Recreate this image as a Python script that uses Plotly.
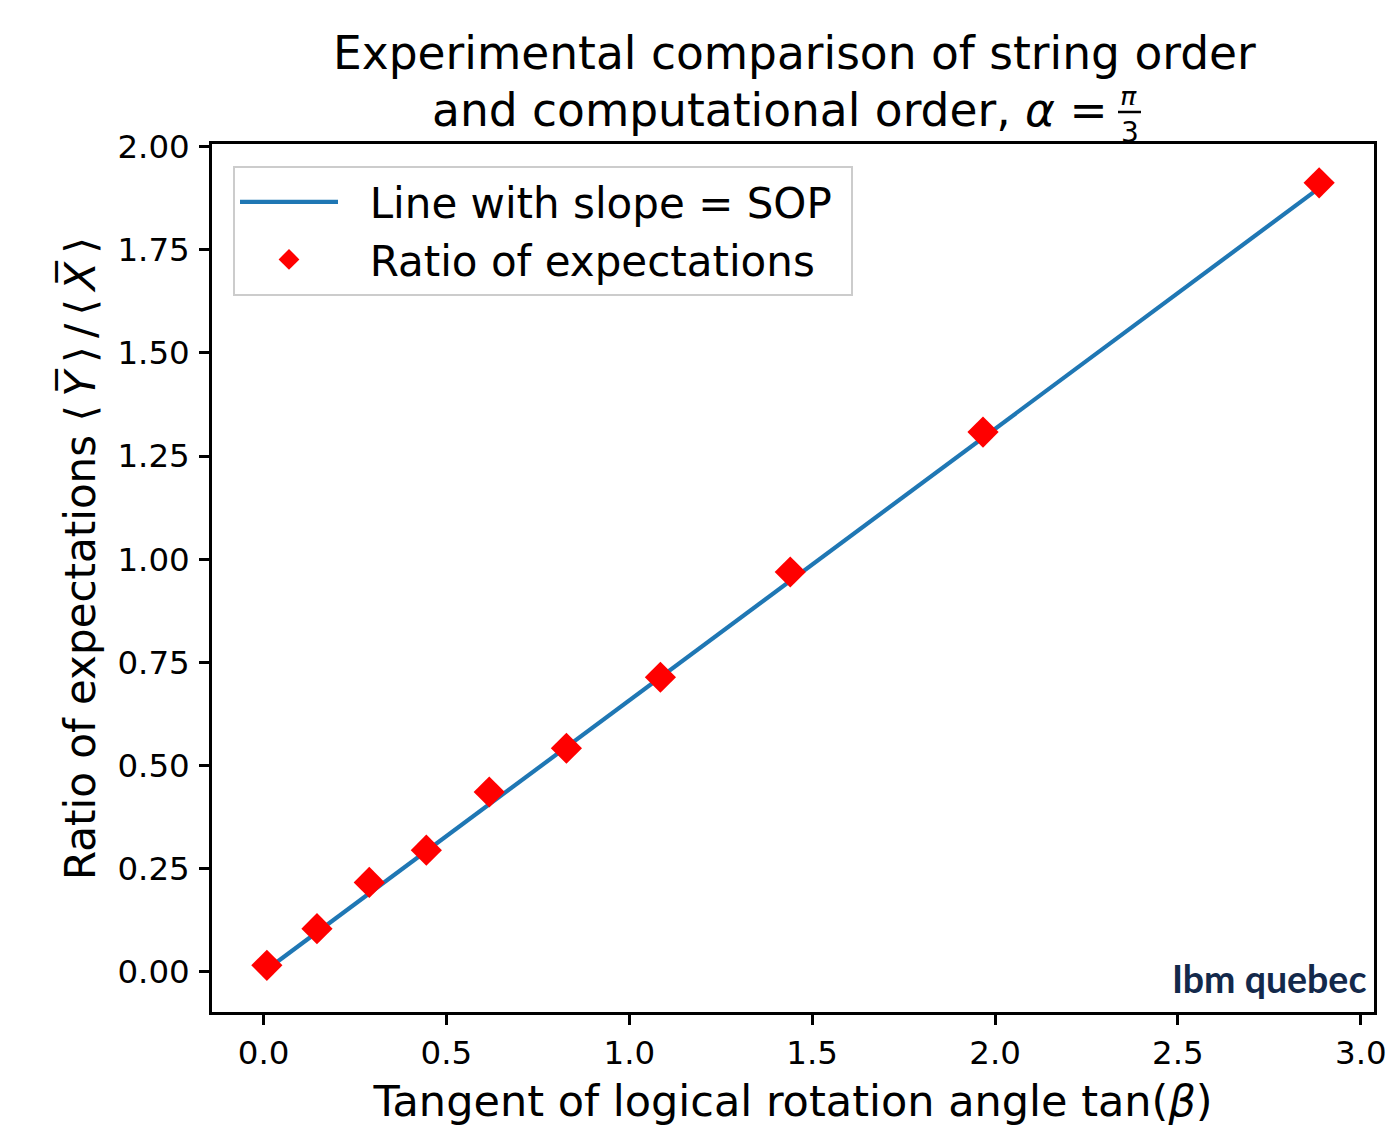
import plotly.graph_objects as go

# ---- data ----
tan_beta = [0.009, 0.146, 0.289, 0.445, 0.617, 0.828, 1.085, 1.440, 1.967, 2.886]
ratio = [0.016, 0.105, 0.217, 0.295, 0.436, 0.542, 0.714, 0.969, 1.308, 1.912]
line_x = [0.009, 2.886]
line_y = [0.006, 1.899]
x_ticks = [0.0, 0.5, 1.0, 1.5, 2.0, 2.5, 3.0]
y_ticks = [0.00, 0.25, 0.50, 0.75, 1.00, 1.25, 1.50, 1.75, 2.00]

FONT = "DejaVu Sans"
W, H = 1389, 1136
L, R, T, B = 212, 15, 144, 124
PW = W - L - R
PH = H - T - B
NB = "\u00a0"
TS = "\u2009"


def px(xp):
    return (xp - L) / PW


def py(yp):
    return (H - B - yp) / PH


fig = go.Figure()
fig.add_trace(go.Scatter(
    x=line_x, y=line_y, mode="lines", name=NB * 2 + "Line with slope = SOP" + NB,
    line=dict(color="#1f77b4", width=4.2),
))
fig.add_trace(go.Scatter(
    x=tan_beta, y=ratio, mode="markers", name=NB * 2 + "Ratio of expectations" + NB,
    marker=dict(symbol="diamond", color="#ff0000", size=24, line=dict(width=0)),
))

axis_common = dict(
    showgrid=False, zeroline=False, showline=True, linecolor="black",
    linewidth=2.5, mirror=True, ticks="outside", ticklen=10, tickwidth=2.5,
    tickcolor="black", tickfont=dict(family=FONT, size=32.5, color="black"),
)

fig.update_xaxes(
    range=[-0.141, 3.036], tickvals=x_ticks, tickformat=".1f",
    title=dict(text="Tangent of logical rotation angle tan(<i>β</i>)",
               font=dict(family=FONT, size=43, color="black"), standoff=16),
    **axis_common,
)
fig.update_yaxes(
    range=[-0.097, 2.006], tickvals=y_ticks, tickformat=".2f",
    ticklabelstandoff=3,
    **axis_common,
)

ylabel = ("Ratio of expectations " + "⟨" + TS + "<i>Y̅</i>" + TS + "⟩" + TS + "/" + TS
          + "⟨" + TS + "<i>X̅</i>" + TS + "⟩")

annotations = [
    dict(text="Experimental comparison of string order", x=px(794), y=py(53),
         xanchor="center", yanchor="middle"),
    dict(text="and computational order, <i>α</i> =", x=px(1110), y=py(110),
         xanchor="right", yanchor="middle"),
]
for a in annotations:
    a.update(xref="paper", yref="paper", showarrow=False,
             font=dict(family=FONT, size=45.5, color="black"))
annotations += [
    dict(text="<i>π</i>", x=px(1128), y=py(96), xref="paper", yref="paper",
         showarrow=False, xanchor="center", yanchor="middle", height=18,
         font=dict(family=FONT, size=27, color="black")),
    dict(text="3", x=px(1130), y=py(132), xref="paper", yref="paper",
         showarrow=False, xanchor="center", yanchor="middle", height=22,
         font=dict(family=FONT, size=28, color="black")),
    dict(text=ylabel, x=px(80), y=py(559), xref="paper", yref="paper",
         showarrow=False, xanchor="center", yanchor="middle", textangle=-90,
         font=dict(family=FONT, size=42, color="black")),
    dict(text="<b>Ibm quebec</b>", x=px(1368), y=py(978), xref="paper", yref="paper",
         showarrow=False, xanchor="right", yanchor="middle",
         font=dict(family="Lato", size=37.5, color="#13294b")),
]

fig.update_layout(
    width=W, height=H,
    margin=dict(l=L, r=R, t=T, b=B, autoexpand=False),
    paper_bgcolor="white", plot_bgcolor="white",
    font=dict(family=FONT, color="black"),
    showlegend=True,
    legend=dict(
        x=px(233), y=py(166), xanchor="left", yanchor="top",
        bgcolor="rgba(255,255,255,0.8)", bordercolor="#cccccc", borderwidth=2,
        font=dict(family=FONT, size=42, color="black"),
        itemwidth=98, tracegroupgap=0,
    ),
    annotations=annotations,
    shapes=[dict(type="line", xref="paper", yref="paper",
                 x0=px(1118), x1=px(1141), y0=py(112), y1=py(112),
                 line=dict(color="black", width=2.5))],
)

fig.write_html("out.html")
